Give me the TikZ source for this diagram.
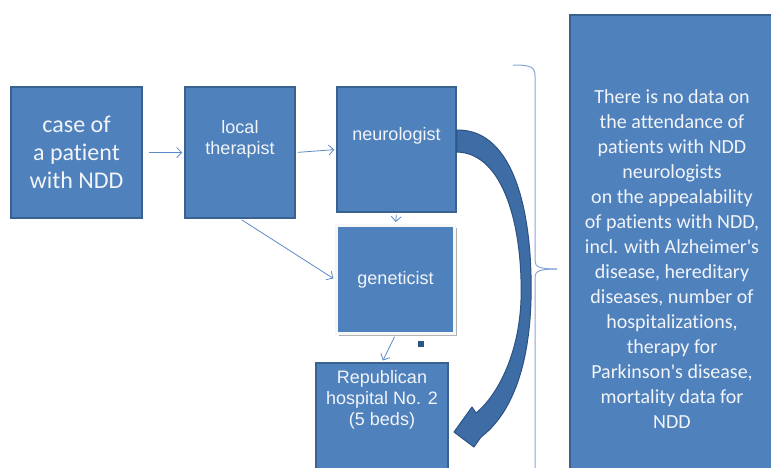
\documentclass[tikz,border=0pt]{standalone}
\usepackage{fontspec}
\setmainfont{Carlito}[Ligatures={NoCommon}]
\newfontfamily\arialfont{Liberation Sans}
\usetikzlibrary{arrows.meta,shadows}
\definecolor{boxblue}{HTML}{4F81BD}
\definecolor{boxedge}{HTML}{3A6291}
\definecolor{linkblue}{HTML}{5B8AC6}
\definecolor{bracecol}{HTML}{86A8D8}
\definecolor{curvefill}{HTML}{3E6DA6}
\definecolor{curveedge}{HTML}{2D5283}
\definecolor{boxtext}{HTML}{F2F4F8}
\tikzset{
  box/.style={draw=boxedge, line width=1.5pt, fill=boxblue, text=boxtext, align=center, inner sep=0pt},
  boxlabel/.style={text=boxtext, align=center, font=\arialfont\fontsize{18}{21}\selectfont},
  link/.style={draw=linkblue, line width=0.8pt, -{Straight Barb[length=5pt,width=10pt]}, shorten <=2pt, shorten >=2pt},
}
\begin{document}
\begin{tikzpicture}[x=1pt, y=-1pt]
  \clip (0,0) rectangle (771,467);
  % boxes of the patient path
  \node[box, minimum width=131pt, minimum height=131pt, font=\fontsize{24}{28}\selectfont] (case) at (76.5,152.5) {case of\\a patient\\with NDD};
  \node[box, minimum width=110pt, minimum height=131pt, label={[boxlabel, yshift=13pt]center:local\\therapist}] (therapist) at (240,152.5) {};
  \node[box, minimum width=119pt, minimum height=125pt, label={[boxlabel, yshift=13.5pt]center:neurologist}] (neuro) at (396.5,149.5) {};
  \node[box, draw=white!94!gray, line width=3pt, minimum width=118pt, minimum height=108pt, font=\arialfont\fontsize{18}{21}\selectfont,
        drop shadow={shadow xshift=2.5pt, shadow yshift=-2.5pt, fill=black!30, opacity=1}] (genet) at (395.5,279.5) {geneticist};
  \node[box, minimum width=132pt, minimum height=147pt, label={[boxlabel, yshift=36.5pt]center:Republican\\hospital No. 2\\(5 beds)}] (repub) at (382,436.5) {};
  \fill[curveedge] (418,341) rectangle (424,347);
  % note on the right
  \node[box, minimum width=204pt, minimum height=488pt, font=\fontsize{20}{25}\selectfont] (note) at (672,259)
    {There is no data on\\the attendance of\\patients with NDD\\neurologists\\on the appealability\\of patients with NDD,\\incl. with Alzheimer\textquotesingle s\\disease, hereditary\\diseases, number of\\hospitalizations,\\therapy for\\Parkinson\textquotesingle s disease,\\mortality data for\\NDD};
  % thin links
  \draw[link, shorten <=6pt] (case) -- (therapist);
  \draw[link] (therapist.east) -- (neuro.west);
  \draw[link] (therapist.south) -- (genet.west);
  \draw[link] (neuro.south) -- (genet.north);
  \draw[link] (genet.south) -- (repub.north);
  % bent arrow neurologist -> hospital
  \filldraw[fill=curvefill, draw=curveedge, line width=1pt, line join=round]
    (neuro.east |- 0,130) .. controls (515,129) and (533,215) .. (531,300)
    .. controls (529,370) and (510,415) .. (481,437) -- (474,447) -- (454,432) -- (472,407) -- (476,413)
    .. controls (497,396) and (519,355) .. (521,300)
    .. controls (523,230) and (505,153) .. (neuro.east |- 0,152) -- cycle;
  % brace
  \coordinate (bracetip) at (557,269);
  \draw[bracecol, line width=1pt] (513,65) .. controls (531,65) and (535,67) .. (535,76) -- (535,261)
    .. controls (535,267) and (540,269) .. (bracetip);
  \draw[bracecol, line width=1pt] (bracetip) .. controls (540,269) and (535,271) .. (535,277) -- (535,480);
\end{tikzpicture}
\end{document}
